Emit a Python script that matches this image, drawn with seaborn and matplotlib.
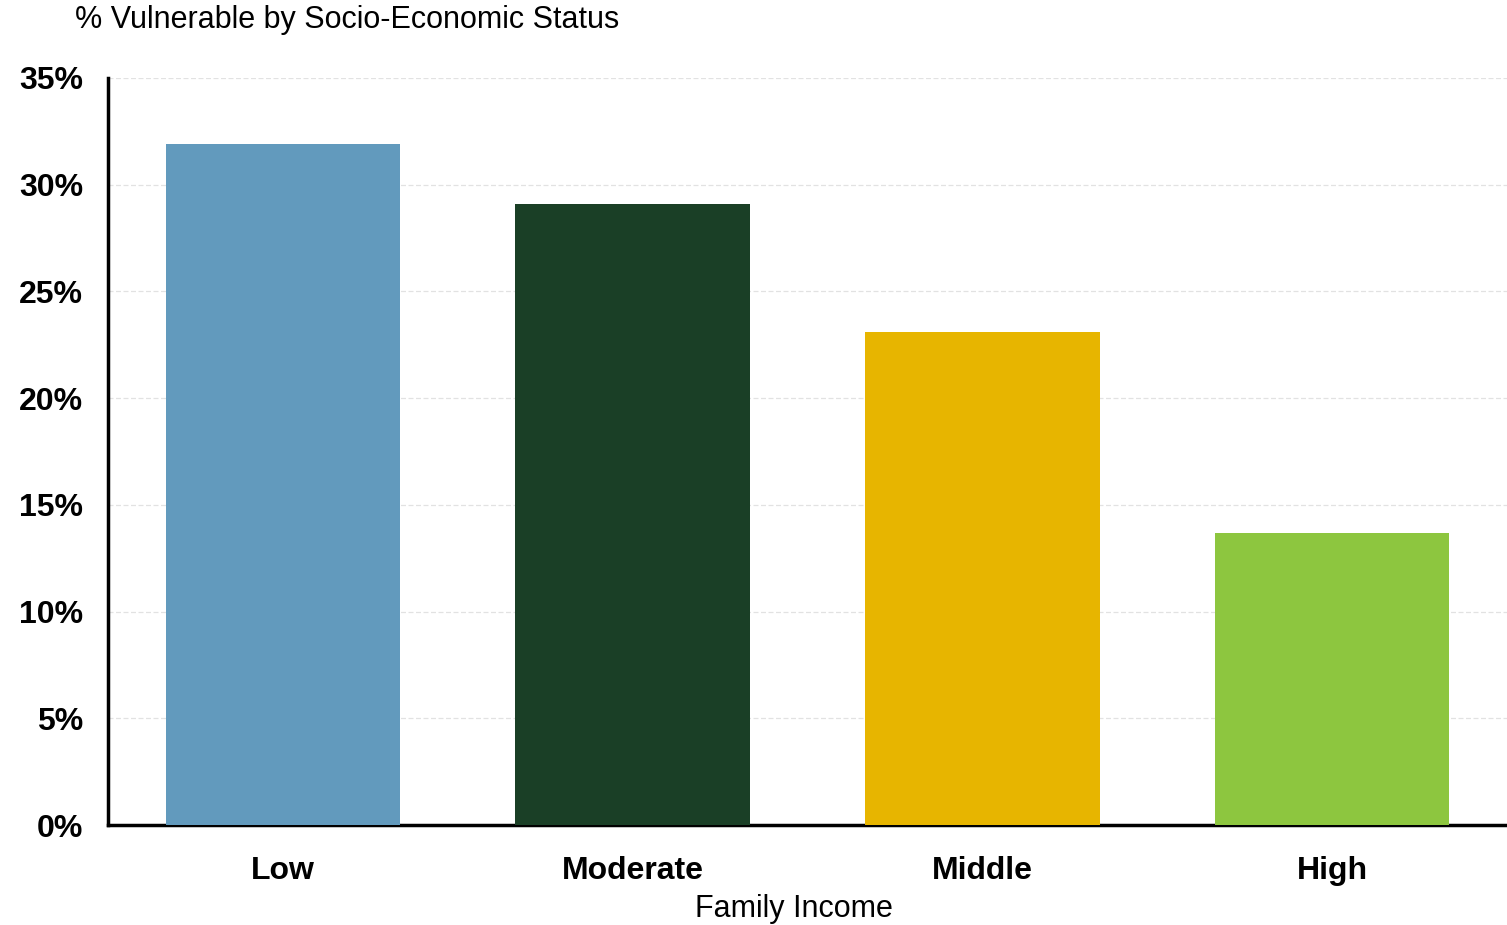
import matplotlib
matplotlib.use("Agg")
import matplotlib.pyplot as plt
import seaborn as sns
import pandas as pd
from matplotlib.ticker import FuncFormatter

# Data
income_levels = ["Low", "Moderate", "Middle", "High"]
pct_vulnerable = [31.9, 29.1, 23.1, 13.7]
bar_colors = ["#629abd", "#1a3f26", "#e7b500", "#8dc63f"]

df = pd.DataFrame({"income": income_levels, "pct": pct_vulnerable})

sns.set_style("white")
plt.rcParams["font.family"] = ["Liberation Sans", "DejaVu Sans"]
plt.rcParams["text.color"] = "black"
plt.rcParams["axes.labelcolor"] = "black"
plt.rcParams["xtick.color"] = "black"
plt.rcParams["ytick.color"] = "black"

fig = plt.figure(figsize=(15.07, 9.25), dpi=100)
ax = fig.add_axes([0.0717, 0.1081, 0.9283, 0.8076])

sns.barplot(data=df, x="income", y="pct", hue="income", palette=bar_colors,
            width=0.67, saturation=1, legend=False, ax=ax, zorder=3,
            edgecolor="none", linewidth=0)

ax.set_ylim(0, 35)
ax.set_xlim(-0.5, 3.5)
ax.set_yticks(range(0, 36, 5))
ax.yaxis.set_major_formatter(FuncFormatter(lambda v, p: f"{v:.0f}%"))
ax.grid(axis="y", color="#e2e2e2", linestyle=(0, (4, 2)), linewidth=0.9, zorder=0)

for s in ["top", "right"]:
    ax.spines[s].set_visible(False)
for s in ["left", "bottom"]:
    ax.spines[s].set_linewidth(2.5)
    ax.spines[s].set_color("black")

ax.tick_params(axis="both", length=0, labelsize=23)
ax.tick_params(axis="y", pad=18)
ax.tick_params(axis="x", pad=22)
for lab in ax.get_xticklabels() + ax.get_yticklabels():
    lab.set_fontweight("bold")

ax.set_xlabel("Family Income", fontsize=22)
ax.xaxis.set_label_coords(0.49, -0.112)
ax.xaxis.label.set_va("center")
ax.set_ylabel("")
fig.text(0.05, 0.978, "% Vulnerable by Socio-Economic Status", fontsize=22,
         ha="left", va="center")

fig.savefig("out.png", dpi=100)
